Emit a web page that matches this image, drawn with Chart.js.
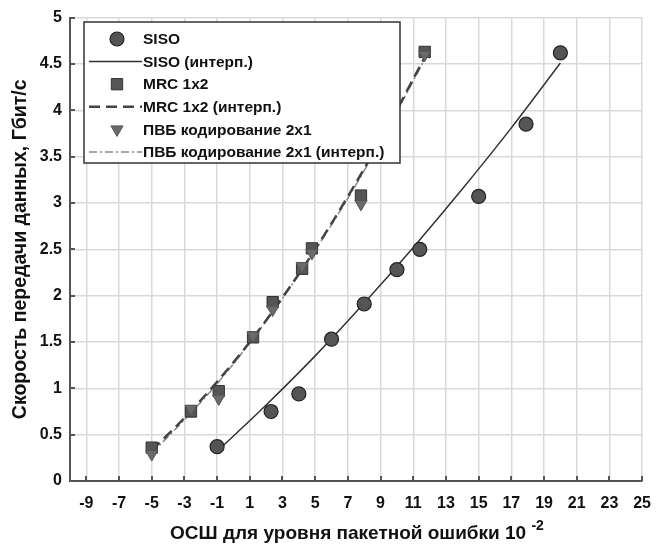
<!DOCTYPE html>
<html>
<head>
<meta charset="utf-8">
<script src="https://cdn.jsdelivr.net/npm/chart.js@4"></script>
<style>
    html, body { margin: 0; padding: 0; background: #fff; }
    #wrap { width: 664px; height: 546px; }
</style>
</head>
<body>
<div id="wrap"><canvas id="chart" width="664" height="546"></canvas></div>
<script>
// Data
const sisoX = [-1, 2.3, 4, 6, 8, 10, 11.4, 15, 17.9, 20];
const sisoY = [0.37, 0.75, 0.94, 1.53, 1.91, 2.28, 2.5, 3.07, 3.85, 4.62];
const sisoFitX = [-1, 2, 5, 8, 11, 14, 17, 20];
const sisoFitY = [0.32, 0.82, 1.35, 1.92, 2.52, 3.15, 3.81, 4.51];

const mrcX = [-5, -2.6, -0.9, 1.2, 2.4, 4.2, 4.8, 7.8, 11.7];
const mrcY = [0.36, 0.75, 0.97, 1.55, 1.93, 2.29, 2.51, 3.08, 4.63];
const mrcFitX = [-5, -3, -1, 1, 3, 5, 7, 9, 11.7];
const mrcFitY = [0.33, 0.68, 1.07, 1.50, 1.98, 2.50, 3.07, 3.68, 4.57];

const pvbX = [-5, -2.6, -0.9, 1.2, 2.4, 4.2, 4.8, 7.8, 11.7];
const pvbY = [0.29, 0.78, 0.89, 1.57, 1.85, 2.32, 2.46, 2.99, 4.6];
const pvbFitX = [-5, -3, -1, 1, 3, 5, 7, 9, 11.7];
const pvbFitY = [0.30, 0.66, 1.05, 1.49, 1.97, 2.49, 3.05, 3.66, 4.55];

const xTicks = [-9, -7, -5, -3, -1, 1, 3, 5, 7, 9, 11, 13, 15, 17, 19, 21, 23, 25];
const yTicks = [0, 0.5, 1, 1.5, 2, 2.5, 3, 3.5, 4, 4.5, 5];

const xTitle = 'ОСШ для уровня пакетной ошибки 10';
const xTitleSup = '-2';
const yTitle = 'Скорость передачи данных, Гбит/с';

const FONT = '"Liberation Sans", Arial, sans-serif';

function toPoints(xs, ys) {
    return xs.map((x, i) => ({ x: x, y: ys[i] }));
}

function drawMarker(ctx, ds, x, y) {
    ctx.save();
    ctx.fillStyle = ds.backgroundColor;
    ctx.strokeStyle = ds.borderColor;
    ctx.lineWidth = ds.borderWidth;
    Chart.helpers.drawPoint(ctx, {
        pointStyle: ds.pointStyle,
        rotation: ds.rotation || 0,
        radius: ds.pointRadius,
        borderWidth: ds.borderWidth
    }, x, y);
    ctx.restore();
}

// Legend drawn inside the plot, like the original
const innerLegend = {
    id: 'innerLegend',
    afterDraw(chart) {
        const ctx = chart.ctx;
        const box = { left: 84, top: 22, right: 400, bottom: 163 };
        ctx.save();
        ctx.fillStyle = '#fff';
        ctx.fillRect(box.left, box.top, box.right - box.left, box.bottom - box.top);
        ctx.strokeStyle = '#333';
        ctx.lineWidth = 1.5;
        ctx.strokeRect(box.left, box.top, box.right - box.left, box.bottom - box.top);

        const rowH = 22.6;
        chart.data.datasets.forEach((ds, i) => {
            const y = 39 + i * rowH;
            if (ds.showLine) {
                ctx.save();
                ctx.strokeStyle = ds.borderColor;
                ctx.lineWidth = ds.borderWidth;
                ctx.setLineDash(ds.borderDash || []);
                ctx.beginPath();
                ctx.moveTo(89, y);
                ctx.lineTo(142, y);
                ctx.stroke();
                ctx.restore();
            } else {
                drawMarker(ctx, ds, 117, y);
            }
            ctx.fillStyle = '#111';
            ctx.font = 'bold 15.5px ' + FONT;
            ctx.textBaseline = 'middle';
            ctx.textAlign = 'left';
            ctx.fillText(ds.label, 143, y + 1);
        });
        ctx.restore();
    }
};

// Inward tick marks and the x title with its superscript
const axisExtras = {
    id: 'axisExtras',
    afterDraw(chart) {
        const ctx = chart.ctx;
        const xs = chart.scales.x;
        const ys = chart.scales.y;
        const area = chart.chartArea;
        ctx.save();
        ctx.strokeStyle = '#555';
        ctx.lineWidth = 2;
        ctx.beginPath();
        xTicks.forEach(v => {
            const px = Math.round(xs.getPixelForValue(v));
            ctx.moveTo(px, area.bottom);
            ctx.lineTo(px, area.bottom - 5);
        });
        yTicks.forEach(v => {
            const py = Math.round(ys.getPixelForValue(v));
            ctx.moveTo(area.left, py);
            ctx.lineTo(area.left + 5, py);
        });
        ctx.stroke();

        ctx.fillStyle = '#111';
        ctx.textBaseline = 'alphabetic';
        ctx.textAlign = 'left';
        ctx.font = 'bold 19px ' + FONT;
        const mainW = ctx.measureText(xTitle + ' ').width;
        ctx.font = 'bold 14px ' + FONT;
        const supW = ctx.measureText(xTitleSup).width;
        const startX = 357 - (mainW + supW) / 2;
        ctx.font = 'bold 19px ' + FONT;
        ctx.fillText(xTitle, startX, 539);
        ctx.font = 'bold 14px ' + FONT;
        ctx.fillText(xTitleSup, startX + mainW, 530);
        ctx.restore();
    }
};

const ctx = document.getElementById('chart').getContext('2d');
const chart = new Chart(ctx, {
    type: 'scatter',
    data: {
        datasets: [
            {
                label: 'SISO',
                data: toPoints(sisoX, sisoY),
                pointStyle: 'circle',
                pointRadius: 7,
                backgroundColor: '#555',
                borderColor: '#222',
                borderWidth: 1.2,
                showLine: false,
                order: 1
            },
            {
                label: 'SISO (интерп.)',
                data: toPoints(sisoFitX, sisoFitY),
                showLine: true,
                pointRadius: 0,
                borderColor: '#333',
                backgroundColor: '#333',
                borderWidth: 1.5,
                cubicInterpolationMode: 'monotone',
                order: 4
            },
            {
                label: 'MRC 1x2',
                data: toPoints(mrcX, mrcY),
                pointStyle: 'rect',
                pointRadius: 8,
                backgroundColor: '#555',
                borderColor: '#333',
                borderWidth: 1,
                showLine: false,
                order: 3
            },
            {
                label: 'MRC 1x2 (интерп.)',
                data: toPoints(mrcFitX, mrcFitY),
                showLine: true,
                pointRadius: 0,
                borderColor: '#444',
                backgroundColor: '#444',
                borderWidth: 2.5,
                borderDash: [11, 6],
                cubicInterpolationMode: 'monotone',
                order: 5
            },
            {
                label: 'ПВБ кодирование 2x1',
                data: toPoints(pvbX, pvbY),
                pointStyle: 'triangle',
                rotation: 180,
                pointRadius: 7,
                backgroundColor: '#6a6a6a',
                borderColor: '#555',
                borderWidth: 1,
                showLine: false,
                order: 2
            },
            {
                label: 'ПВБ кодирование 2x1 (интерп.)',
                data: toPoints(pvbFitX, pvbFitY),
                showLine: true,
                pointRadius: 0,
                borderColor: '#888',
                backgroundColor: '#888',
                borderWidth: 1.5,
                borderDash: [8, 3, 2, 3],
                cubicInterpolationMode: 'monotone',
                order: 6
            }
        ]
    },
    options: {
        responsive: false,
        animation: false,
        layout: { padding: { top: 11, right: 20, left: 0, bottom: 0 } },
        plugins: {
            legend: { display: false },
            tooltip: { enabled: false }
        },
        scales: {
            x: {
                type: 'linear',
                min: -10,
                max: 25,
                afterBuildTicks: scale => {
                    scale.ticks = xTicks.map(v => ({ value: v }));
                },
                afterFit: scale => { scale.height = 65; },
                grid: { color: '#d9d9d9', lineWidth: 1.5, drawTicks: false },
                border: { color: '#555', width: 2 },
                ticks: {
                    padding: 13,
                    color: '#111',
                    font: { size: 16, weight: 'bold', family: FONT },
                    maxRotation: 0,
                    autoSkip: false,
                    callback: v => String(v)
                }
            },
            y: {
                type: 'linear',
                min: 0,
                max: 5,
                afterBuildTicks: scale => {
                    scale.ticks = yTicks.map(v => ({ value: v }));
                },
                afterFit: scale => { scale.width = 70; },
                grid: { color: '#d9d9d9', lineWidth: 1.5, drawTicks: false },
                border: { color: '#555', width: 2 },
                ticks: {
                    padding: 8,
                    color: '#111',
                    font: { size: 16, weight: 'bold', family: FONT },
                    autoSkip: false,
                    callback: v => String(v)
                },
                title: {
                    display: true,
                    text: yTitle,
                    color: '#111',
                    font: { size: 19.5, weight: 'bold', family: FONT },
                    padding: { top: 9, bottom: 0 }
                }
            }
        }
    },
    plugins: [innerLegend, axisExtras]
});
</script>
</body>
</html>
